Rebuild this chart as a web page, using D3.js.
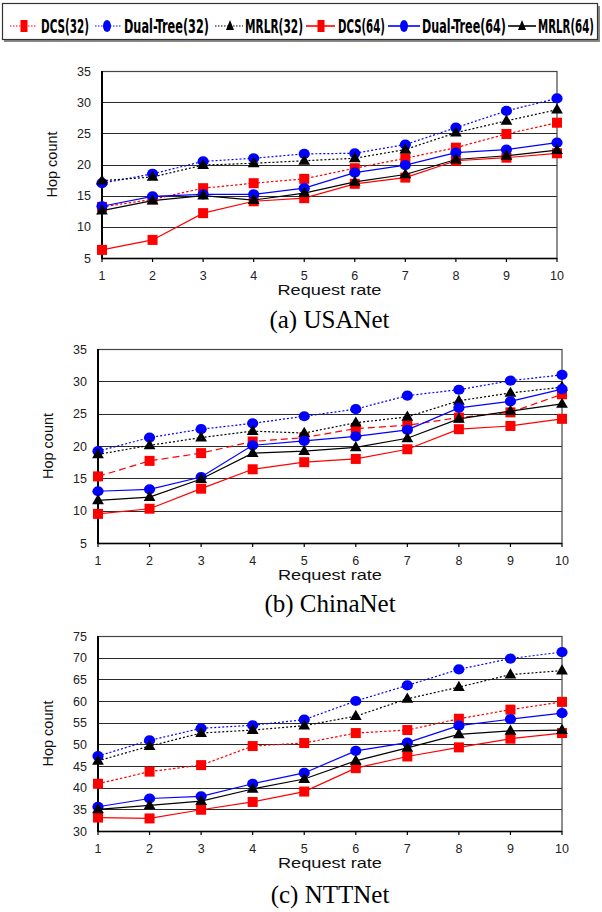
<!DOCTYPE html>
<html>
<head>
<meta charset="utf-8">
<script src="https://cdn.jsdelivr.net/npm/d3@7"></script>
<style>
  html, body { margin: 0; padding: 0; background: #fff; }
  svg { display: block; }
</style>
</head>
<body>
<svg id="chart" width="602" height="912"></svg>
<script>
"use strict";

const requestRates = [1, 2, 3, 4, 5, 6, 7, 8, 9, 10];
const seriesNames = ["DCS(32)", "Dual-Tree(32)", "MRLR(32)", "DCS(64)", "Dual-Tree(64)", "MRLR(64)"];
const chartCaptions = ["(a) USANet", "(b) ChinaNet", "(c) NTTNet"];
const usaTicks = [5, 10, 15, 20, 25, 30, 35];
const chinaTicks = [5, 10, 15, 20, 25, 30, 35];
const nttTicks = [30, 35, 40, 45, 50, 55, 60, 65, 70, 75];

// (a) USANet
const usaDcs32 = [13.2, 14.4, 16.2, 17.0, 17.7, 19.4, 21.0, 22.7, 24.9, 26.7];
const usaDual32 = [17.0, 18.5, 20.5, 21.0, 21.7, 21.8, 23.2, 25.9, 28.6, 30.6];
const usaMrlr32 = [17.4, 18.0, 19.9, 20.2, 20.6, 21.0, 22.4, 25.1, 27.0, 28.8];
const usaDcs64 = [6.3, 7.9, 12.2, 14.1, 14.6, 16.9, 17.9, 20.6, 21.1, 21.8];
const usaDual64 = [13.3, 14.9, 15.2, 15.2, 16.2, 18.7, 19.9, 21.9, 22.4, 23.5];
const usaMrlr64 = [12.6, 14.2, 15.0, 14.3, 15.4, 17.2, 18.4, 20.8, 21.4, 22.3];

// (b) ChinaNet
const chinaDcs32 = [15.3, 17.7, 18.9, 20.7, 21.3, 22.7, 23.2, 24.4, 25.2, 28.0];
const chinaDual32 = [19.2, 21.3, 22.6, 23.5, 24.6, 25.7, 27.8, 28.7, 30.1, 31.0];
const chinaMrlr32 = [18.7, 20.1, 21.3, 22.3, 22.0, 23.6, 24.5, 27.0, 28.2, 29.1];
const chinaDcs64 = [9.5, 10.3, 13.4, 16.4, 17.5, 18.0, 19.5, 22.6, 23.1, 24.2];
const chinaDual64 = [13.0, 13.3, 15.2, 20.1, 20.8, 21.5, 22.5, 25.9, 26.9, 28.8];
const chinaMrlr64 = [11.6, 12.1, 14.9, 18.9, 19.2, 19.8, 21.2, 24.2, 25.4, 26.5];

// (c) NTTNet
const nttDcs32 = [40.9, 43.7, 45.2, 49.6, 50.3, 52.6, 53.3, 55.9, 58.0, 59.8];
const nttDual32 = [47.3, 50.9, 53.7, 54.4, 55.7, 60.0, 63.6, 67.3, 69.8, 71.3];
const nttMrlr32 = [46.2, 49.6, 52.6, 53.3, 54.3, 56.5, 60.5, 63.2, 66.1, 67.0];
const nttDcs64 = [33.1, 32.9, 34.9, 36.7, 39.1, 44.5, 47.2, 49.3, 51.3, 52.6];
const nttDual64 = [35.6, 37.5, 38.0, 40.9, 43.4, 48.5, 50.4, 54.3, 55.8, 57.2];
const nttMrlr64 = [35.0, 35.9, 36.9, 39.7, 42.0, 46.2, 49.2, 52.3, 53.1, 53.3];

const panels = [
    {caption: chartCaptions[0], ticks: usaTicks, series: [usaDcs32, usaDual32, usaMrlr32, usaDcs64, usaDual64, usaMrlr64]},
    {caption: chartCaptions[1], ticks: chinaTicks, series: [chinaDcs32, chinaDual32, chinaMrlr32, chinaDcs64, chinaDual64, chinaMrlr64]},
    {caption: chartCaptions[2], ticks: nttTicks, series: [nttDcs32, nttDual32, nttMrlr32, nttDcs64, nttDual64, nttMrlr64]},
];

// layout of each panel's plot box
const boxes = [
    {left: 102, right: 557, top: 71, bottom: 258, captionY: 328, dcsDash: "2.5,2"},
    {left: 98, right: 562, top: 349, bottom: 543, captionY: 612, dcsDash: "7,4"},
    {left: 98, right: 562, top: 636, bottom: 831, captionY: 903, dcsDash: "2.5,2"},
];

const seriesStyles = [
    {color: "#ff0000", marker: "square", dotted: true},
    {color: "#0000ff", marker: "circle", dotted: true},
    {color: "#000000", marker: "triangle", dotted: true},
    {color: "#ff0000", marker: "square", dotted: false},
    {color: "#0000ff", marker: "circle", dotted: false},
    {color: "#000000", marker: "triangle", dotted: false},
];

const svg = d3.select("#chart");
const sansFont = "'Liberation Sans', Arial, sans-serif";

function drawMarker(g, type, x, y, color) {
    if (type === "square") {
        g.append("rect")
            .attr("x", x - 5).attr("y", y - 5)
            .attr("width", 10).attr("height", 10)
            .attr("fill", color);
    } else if (type === "circle") {
        g.append("ellipse")
            .attr("cx", x).attr("cy", y)
            .attr("rx", 5.6).attr("ry", 5.1)
            .attr("fill", color);
    } else {
        g.append("path")
            .attr("d", d3.symbol(d3.symbolTriangle, 60)())
            .attr("transform", `translate(${x},${y + 0.5})`)
            .attr("fill", color);
    }
}

// squeeze a text horizontally so it spans exactly `width` pixels
function fitText(parent, x, y, width, str, styles) {
    const holder = parent.append("g");
    const t = holder.append("text").attr("x", 0).attr("y", 0).text(str);
    for (const [k, v] of Object.entries(styles)) {
        t.style(k, v);
    }
    const natural = t.node().getComputedTextLength();
    holder.attr("transform", `translate(${x},${y}) scale(${width / natural},1)`);
    return t;
}

function drawLegend() {
    const g = svg.append("g");
    g.append("rect")
        .attr("x", 4).attr("y", 6).attr("width", 596).attr("height", 36)
        .attr("fill", "#888");
    g.append("rect")
        .attr("x", 2.5).attr("y", 3.5).attr("width", 595).attr("height", 36)
        .attr("fill", "#fff").attr("stroke", "#333").attr("stroke-width", 1.2);

    const items = [
        {l0: 10, l1: 37, m: 24, t0: 41, t1: 89},
        {l0: 95, l1: 122, m: 107, t0: 124, t1: 209},
        {l0: 215, l1: 243, m: 230, t0: 245, t1: 303},
        {l0: 306, l1: 335, m: 321, t0: 338, t1: 385},
        {l0: 388, l1: 420, m: 404, t0: 422, t1: 506},
        {l0: 508, l1: 536, m: 522, t0: 538, t1: 594},
    ];
    const ly = 26;
    items.forEach((it, i) => {
        const st = seriesStyles[i];
        g.append("line")
            .attr("x1", it.l0).attr("x2", it.l1).attr("y1", ly).attr("y2", ly)
            .attr("stroke", st.color).attr("stroke-width", st.dotted ? 1.2 : 1.6)
            .attr("stroke-dasharray", st.dotted ? "1.5,1.5" : null);
        if (st.marker === "square") {
            g.append("rect").attr("x", it.m - 3.5).attr("y", ly - 6).attr("width", 7).attr("height", 12).attr("fill", st.color);
        } else if (st.marker === "circle") {
            g.append("ellipse").attr("cx", it.m).attr("cy", ly).attr("rx", 4).attr("ry", 6).attr("fill", st.color);
        } else {
            g.append("path").attr("d", `M${it.m},${ly - 6}L${it.m + 4},${ly + 4}L${it.m - 4},${ly + 4}Z`).attr("fill", st.color);
        }
        fitText(g, it.t0, ly + 7, it.t1 - it.t0, seriesNames[i], {
            "font-family": "'Liberation Sans Narrow', 'DejaVu Sans Condensed', sans-serif",
            "font-weight": "bold",
            "font-size": "19px",
            "fill": "#000",
        });
    });
}

function drawPanel(panel, box) {
    const g = svg.append("g");
    const x = d3.scaleLinear().domain([1, 10]).range([box.left, box.right]);
    const yDomain = d3.extent(panel.ticks);
    const y = d3.scaleLinear().domain(yDomain).range([box.bottom, box.top]);

    // gridlines
    g.append("g").selectAll("line")
        .data(panel.ticks)
        .join("line")
        .attr("x1", box.left).attr("x2", box.right)
        .attr("y1", d => Math.round(y(d)) + 0.5).attr("y2", d => Math.round(y(d)) + 0.5)
        .attr("stroke", "#2a2a2a").attr("stroke-width", 1);

    // frame
    g.append("rect")
        .attr("x", box.left).attr("y", Math.round(box.top) + 0.5)
        .attr("width", box.right - box.left).attr("height", box.bottom - box.top)
        .attr("fill", "none").attr("stroke", "#444").attr("stroke-width", 1.2);
    g.append("line")
        .attr("x1", box.left).attr("x2", box.left).attr("y1", box.top).attr("y2", box.bottom + 1)
        .attr("stroke", "#000").attr("stroke-width", 2);
    g.append("line")
        .attr("x1", box.left).attr("x2", box.right).attr("y1", box.bottom + 0.5).attr("y2", box.bottom + 0.5)
        .attr("stroke", "#000").attr("stroke-width", 1.6);

    // x ticks
    g.append("g").selectAll("line")
        .data(requestRates)
        .join("line")
        .attr("x1", d => x(d)).attr("x2", d => x(d))
        .attr("y1", box.bottom).attr("y2", box.bottom + 4)
        .attr("stroke", "#000").attr("stroke-width", 1.2);

    g.append("g").selectAll("text")
        .data(requestRates)
        .join("text")
        .attr("x", d => x(d)).attr("y", box.bottom + 22)
        .attr("text-anchor", "middle")
        .style("font-family", sansFont).style("font-size", "12.5px")
        .attr("fill", "#222")
        .text(d => d);

    g.append("g").selectAll("text")
        .data(panel.ticks)
        .join("text")
        .attr("x", box.left - 11).attr("y", d => y(d))
        .attr("dy", "0.36em")
        .attr("text-anchor", "end")
        .style("font-family", sansFont).style("font-size", "12.5px")
        .attr("fill", "#222")
        .text(d => d);

    const midY = (box.top + box.bottom) / 2;
    g.append("text")
        .attr("transform", `translate(${box.left - 50},${midY}) rotate(-90)`)
        .attr("text-anchor", "middle")
        .attr("dy", "0.36em")
        .style("font-family", sansFont).style("font-size", "14.5px")
        .attr("fill", "#111")
        .text("Hop count");

    const midX = (box.left + box.right) / 2;
    fitText(g, midX - 52, box.bottom + 37, 104, "Request rate", {
        "font-family": sansFont,
        "font-size": "14.5px",
        "fill": "#111",
    });

    g.append("text")
        .attr("x", midX).attr("y", box.captionY)
        .attr("text-anchor", "middle")
        .style("font-family", "'Liberation Serif', 'Times New Roman', serif")
        .style("font-size", "25px")
        .attr("fill", "#000")
        .text(panel.caption);

    // series
    const line = d3.line().x((d, i) => x(requestRates[i])).y(d => y(d));
    panel.series.forEach((values, i) => {
        const st = seriesStyles[i];
        const sg = g.append("g");
        let dash = null;
        if (st.dotted) {
            dash = i === 0 ? box.dcsDash : "2,2";
        }
        sg.append("path")
            .attr("d", line(values))
            .attr("fill", "none")
            .attr("stroke", st.color)
            .attr("stroke-width", 1.2)
            .attr("stroke-dasharray", dash);
        values.forEach((v, j) => drawMarker(sg, st.marker, x(requestRates[j]), y(v), st.color));
    });
}

drawLegend();
panels.forEach((p, i) => drawPanel(p, boxes[i]));
</script>
</body>
</html>
